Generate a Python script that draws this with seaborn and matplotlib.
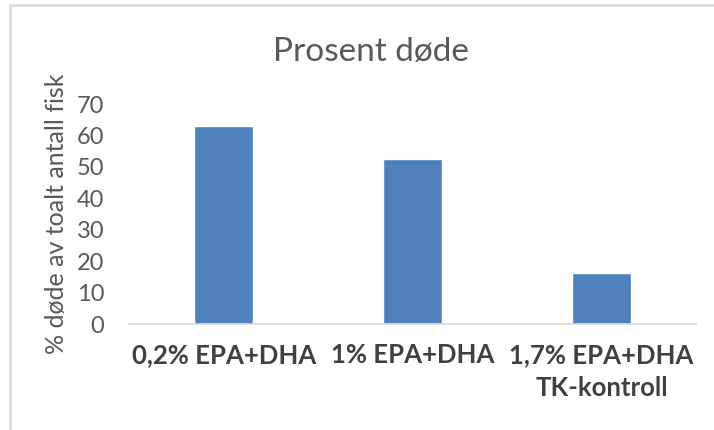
import matplotlib
matplotlib.use("Agg")
import matplotlib.pyplot as plt
from matplotlib.lines import Line2D
import seaborn as sns
import pandas as pd

# Data

groups = ["0,2% EPA+DHA", "1% EPA+DHA", "1,7% EPA+DHA\nTK-kontroll"]
pct_dead = [63.1, 52.5, 16.2]

df = pd.DataFrame({"group": groups, "pct": pct_dead})

sns.set_theme(style="white")
plt.rcParams["font.family"] = ["Lato", "DejaVu Sans"]

fig = plt.figure(figsize=(7.14, 4.30), dpi=100)
ax = fig.add_axes([0.181, 0.2465, 0.794, 0.5115])

sns.barplot(data=df, x="group", y="pct", color="#4F81BD", saturation=1,
            width=0.315, ax=ax)

ax.set_ylim(0, 70)
ax.set_xlim(-0.5, 2.5)
ax.set_yticks(range(0, 71, 10))
ax.tick_params(axis="y", labelsize=17, labelcolor="#595959", length=0, pad=18)
ax.tick_params(axis="x", labelsize=18.5, labelcolor="#404040", length=0, pad=14)
for lbl in ax.get_xticklabels():
    lbl.set_fontweight("bold")
    lbl.set_linespacing(1.45)

for side in ["top", "right", "left"]:
    ax.spines[side].set_visible(False)
ax.spines["bottom"].set_color("#d9d9d9")
ax.spines["bottom"].set_linewidth(1.2)

ax.set_xlabel("")
ax.set_ylabel("% døde av toalt antall fisk", fontsize=18, color="#595959", labelpad=6)
fig.text(0.52, 0.88, "Prosent døde", ha="center", va="center",
         fontsize=24, color="#595959")

# light frame on top and left like the original screenshot
fig.add_artist(Line2D([10 / 714, 1], [1 - 5 / 430, 1 - 5 / 430],
                      transform=fig.transFigure, color="#d9d9d9", lw=2))
fig.add_artist(Line2D([10 / 714, 10 / 714], [0, 1 - 5 / 430],
                      transform=fig.transFigure, color="#d9d9d9", lw=2))

fig.savefig("out.png", dpi=100)
